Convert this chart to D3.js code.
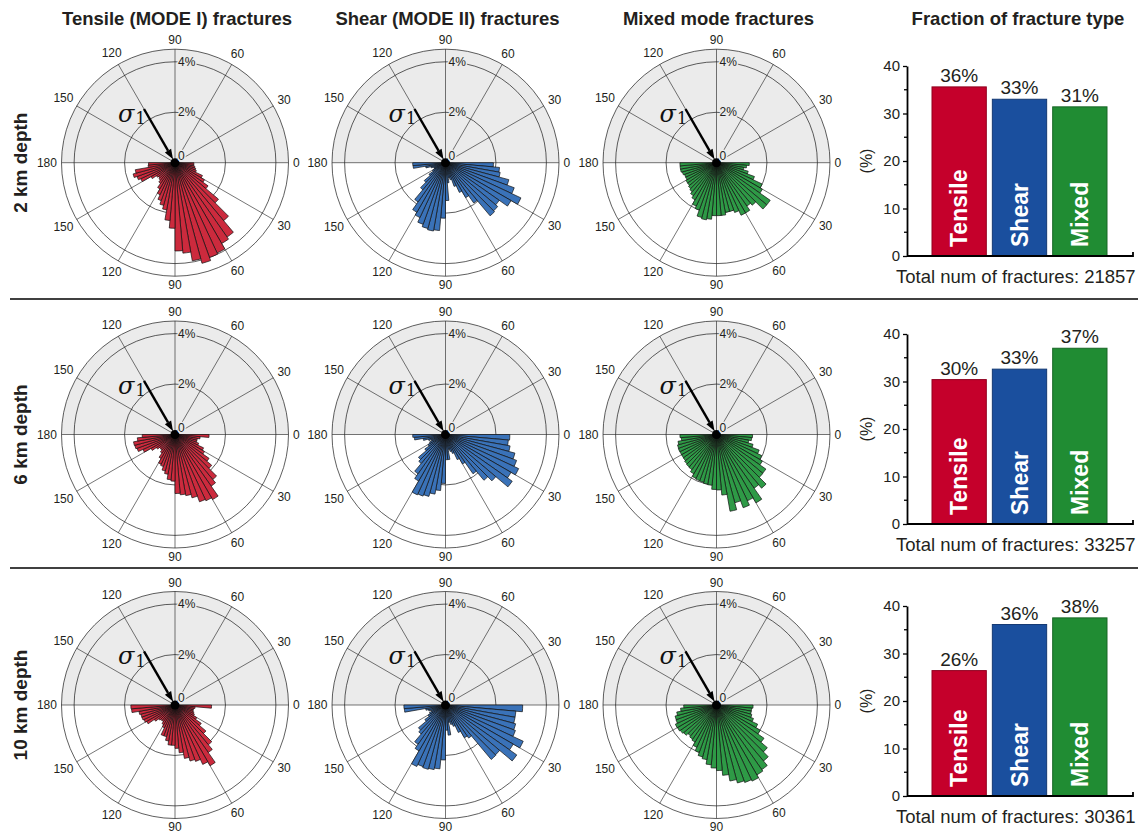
<!DOCTYPE html>
<meta charset='utf-8'>
<html>
<head>
<style>
  body { margin: 0; background: #fff; }
  text { font-family: 'Liberation Sans', Arial, Helvetica, sans-serif; fill: #231f20; }
</style>
</head>
<body>
<script src='https://d3js.org/d3.v7.min.js'></script>
<script>

// ---- data ----
var depths = ['2 km depth', '6 km depth', '10 km depth'];
var columnTitles = ['Tensile (MODE I) fractures', 'Shear (MODE II) fractures', 'Mixed mode fractures'];
var barTitle = 'Fraction of fracture type';
var types = ['Tensile', 'Shear', 'Mixed'];

// rose bins of 5 deg, from 0 (right) through 90 (bottom) to 180 (left), value in %
var tensile2km = [0.75, 0.75, 0.8, 0.85, 0.9, 1.2, 1.35, 1.6, 2.25, 3.0, 3.6, 3.7,
                  3.95, 4.0, 4.13, 3.95, 3.6, 3.5, 2.6, 2.3, 1.9, 1.75, 1.6, 1.4,
                  1.2, 1.0, 0.9, 0.85, 0.9, 1.1, 1.5, 1.6, 1.72, 1.6, 1.07, 1.05];
var shear2km   = [1.9, 2.15, 2.2, 2.6, 2.9, 3.3, 3.0, 2.6, 2.7, 2.75, 1.95, 1.6,
                  1.3, 1.0, 0.7, 0.6, 0.8, 1.5, 2.2, 2.7, 2.75, 2.7, 2.6, 2.4,
                  2.27, 1.9, 1.4, 1.1, 0.8, 0.6, 0.5, 0.5, 0.6, 0.8, 1.29, 1.3];
var mixed2km   = [1.3, 1.2, 1.1, 1.3, 1.6, 2.0, 2.1, 2.6, 2.6, 2.2, 2.1, 2.3,
                  2.3, 2.1, 2.0, 2.0, 2.1, 2.1, 2.1, 2.25, 2.3, 2.25, 2.0, 1.9,
                  1.7, 1.6, 1.5, 1.45, 1.4, 1.4, 1.35, 1.35, 1.4, 1.45, 1.45, 1.45];
var tensile6km = [1.35, 1.0, 0.9, 0.9, 1.0, 1.25, 1.35, 1.65, 1.9, 2.33, 2.5, 2.98,
                  2.9, 2.84, 2.6, 2.46, 2.4, 2.34, 1.85, 1.8, 1.6, 1.5, 1.35, 1.3,
                  1.1, 0.9, 0.8, 0.8, 0.9, 1.1, 1.4, 1.6, 1.65, 1.67, 1.5, 1.3];
var shear6km   = [2.55, 2.5, 2.6, 2.85, 3.0, 3.2, 3.0, 3.23, 2.6, 2.37, 1.9, 1.35,
                  1.1, 0.8, 0.7, 0.6, 1.0, 1.0, 1.94, 2.23, 2.4, 2.54, 2.6, 2.64,
                  2.13, 1.9, 1.5, 1.4, 1.0, 0.8, 0.7, 0.6, 0.7, 0.9, 1.24, 1.3];
var mixed6km   = [1.43, 1.4, 1.3, 1.5, 1.8, 1.98, 2.1, 2.39, 2.4, 2.78, 2.6, 3.13,
                  2.9, 3.09, 2.8, 3.09, 2.41, 2.2, 2.18, 2.02, 2.0, 1.96, 1.95, 1.92,
                  1.8, 1.7, 1.68, 1.65, 1.61, 1.6, 1.6, 1.61, 1.6, 1.55, 1.4, 1.45];
var tensile10km = [1.45, 0.8, 0.75, 0.75, 0.8, 0.85, 1.0, 1.27, 1.6, 2.06, 2.3, 2.78,
                   2.6, 2.38, 2.3, 2.15, 1.9, 1.72, 1.6, 1.6, 1.45, 1.3, 1.3, 1.0,
                   0.9, 0.8, 0.8, 0.85, 1.0, 1.3, 1.36, 1.4, 1.4, 1.45, 1.73, 1.75];
var shear10km   = [3.06, 2.8, 2.8, 2.88, 2.95, 3.4, 3.1, 3.45, 2.8, 2.82, 1.6, 1.5,
                   1.2, 0.9, 0.8, 0.7, 1.2, 1.0, 2.18, 2.54, 2.6, 2.64, 2.6, 2.69,
                   2.1, 1.9, 1.5, 1.4, 1.0, 0.8, 0.7, 0.6, 0.7, 0.8, 1.64, 1.65];
var mixed10km   = [1.45, 1.4, 1.4, 1.45, 1.56, 1.8, 2.0, 2.3, 2.63, 2.9, 3.13, 3.2,
                   3.33, 3.27, 3.2, 3.06, 2.8, 2.6, 2.5, 2.38, 2.2, 2.13, 2.0, 1.85,
                   1.7, 1.65, 1.6, 1.7, 1.75, 1.79, 1.8, 1.71, 1.7, 1.6, 1.43, 1.3];

var roses = [[tensile2km, shear2km, mixed2km],
             [tensile6km, shear6km, mixed6km],
             [tensile10km, shear10km, mixed10km]];

// fraction of fracture type (%)
var fraction2km = [35.6, 33.0, 31.4];
var fraction6km = [30.4, 32.6, 37.0];
var fraction10km = [26.4, 36.1, 37.5];
var fractions = [fraction2km, fraction6km, fraction10km];
var totals = [21857, 33257, 30361];

var angleTicks = [0, 30, 60, 90, 120, 150, 180];
var radialTicks = [0, 2, 4];
var percentTicks = [0, 10, 20, 30, 40];
var percentMinor = [5, 15, 25, 35];
var sigmaAngle = 120;

// ---- layout ----
var width = 1143, height = 833;
var roseColors = ['#cc2a3d', '#3a72b8', '#2e9a46'];
var barColors = ['#c5002b', '#1a4f9e', '#208c33'];
var roseX = [175, 445.5, 716.5];
var rowY = [162.7, 434.5, 705];
var barBase = [256, 524, 796];
var R = 113.5;
var rad = d3.scaleLinear().domain([0, 4.5]).range([0, R]);
var toRad = Math.PI / 180;

var svg = d3.select('body').append('svg')
    .attr('width', width)
    .attr('height', height);

// column titles
svg.selectAll('text.coltitle')
    .data(columnTitles)
    .enter().append('text')
    .attr('class', 'coltitle')
    .attr('x', function(d, i){ return roseX[i] + 2; })
    .attr('y', 25)
    .attr('text-anchor', 'middle')
    .style('font-weight', 'bold')
    .style('font-size', '18.5px')
    .text(function(d){ return d; });

svg.append('text')
    .attr('x', 1018).attr('y', 25)
    .attr('text-anchor', 'middle')
    .style('font-weight', 'bold')
    .style('font-size', '18.5px')
    .text(barTitle);

// row labels
svg.selectAll('text.rowlabel')
    .data(depths)
    .enter().append('text')
    .attr('class', 'rowlabel')
    .attr('transform', function(d, i){ return 'translate(27,' + rowY[i] + ') rotate(-90)'; })
    .attr('text-anchor', 'middle')
    .style('font-weight', 'bold')
    .style('font-size', '19px')
    .text(function(d){ return d; });

// separators
[299, 568].forEach(function(y){
    svg.append('line')
        .attr('x1', 10).attr('x2', 1138)
        .attr('y1', y).attr('y2', y)
        .attr('stroke', '#000').attr('stroke-width', 1.5);
});

function drawRose(cx, cy, values, color){
    var g = svg.append('g').attr('transform', 'translate(' + cx + ',' + cy + ')');

    // upper half shaded
    g.append('path')
        .attr('d', d3.arc()({ innerRadius: 0, outerRadius: R, startAngle: -Math.PI / 2, endAngle: Math.PI / 2 }))
        .attr('fill', '#ebebeb');

    // rings
    [rad(2), rad(4), R].forEach(function(r){
        g.append('circle').attr('r', r)
            .attr('fill', 'none').attr('stroke', '#1a1a1a').attr('stroke-width', 0.7);
    });

    // spokes
    d3.range(0, 360, 30).forEach(function(a){
        g.append('line')
            .attr('x1', 0).attr('y1', 0)
            .attr('x2', R * Math.cos(a * toRad))
            .attr('y2', R * Math.sin(a * toRad))
            .attr('stroke', '#1a1a1a').attr('stroke-width', 0.6);
    });

    // bars
    var arc = d3.arc().innerRadius(0);
    g.selectAll('path.bin')
        .data(values)
        .enter().append('path')
        .attr('class', 'bin')
        .attr('d', function(d, i){
            return arc({ outerRadius: rad(d),
                         startAngle: (i * 5 + 90) * toRad,
                         endAngle: ((i + 1) * 5 + 90) * toRad });
        })
        .attr('fill', color)
        .attr('stroke', '#111')
        .attr('stroke-width', 0.7);

    g.append('circle').attr('r', 4.5).attr('fill', '#000');

    // radial labels
    g.selectAll('text.rlab')
        .data(radialTicks)
        .enter().append('text')
        .attr('class', 'rlab')
        .attr('x', 3)
        .attr('y', function(d){ return d === 0 ? -7 : -rad(d); })
        .attr('dominant-baseline', 'central')
        .style('font-size', '12px')
        .style('paint-order', 'stroke')
        .attr('stroke', '#ebebeb').attr('stroke-width', 3)
        .text(function(d){ return d === 0 ? '0' : d + '%'; });

    // sigma 1 arrow
    var ax = Math.cos(sigmaAngle * toRad), ay = -Math.sin(sigmaAngle * toRad);
    var r0 = 62, tip = 4, head = 10, hw = 3.6;
    var bx = ax * (tip + head), by = ay * (tip + head);
    g.append('line')
        .attr('x1', ax * r0).attr('y1', ay * r0)
        .attr('x2', bx).attr('y2', by)
        .attr('stroke', '#000').attr('stroke-width', 2.4);
    g.append('path')
        .attr('d', 'M' + (ax * tip) + ',' + (ay * tip) +
                   'L' + (bx - ay * hw) + ',' + (by + ax * hw) +
                   'L' + (bx + ay * hw) + ',' + (by - ax * hw) + 'Z')
        .attr('fill', '#000');

    var sig = g.append('text')
        .attr('x', -57).attr('y', -41)
        .style('font-family', "'DejaVu Serif', 'Liberation Serif', serif")
        .style('fill', '#111');
    sig.append('tspan').style('font-size', '24px').style('font-style', 'italic').text('σ');
    sig.append('tspan').attr('dy', 2.5).attr('dx', 1).style('font-size', '16px').text('1');

    // angle labels
    var labels = [];
    angleTicks.forEach(function(a){ labels.push({ a: a, up: true }); });
    angleTicks.filter(function(a){ return a > 0 && a < 180; })
        .forEach(function(a){ labels.push({ a: a, up: false }); });
    g.selectAll('text.alab')
        .data(labels)
        .enter().append('text')
        .attr('class', 'alab')
        .each(function(d){
            var s = String(d.a);
            var w = 6.7 * s.length, h = 8.6;
            var c = Math.cos(d.a * toRad), sn = Math.sin(d.a * toRad);
            var rr = 118 + 0.5 * w * Math.abs(c) + 0.5 * h * Math.abs(sn);
            d3.select(this)
                .attr('x', rr * c)
                .attr('y', (d.up ? -1 : 1) * rr * sn)
                .text(s);
        })
        .attr('text-anchor', 'middle')
        .attr('dominant-baseline', 'central')
        .style('font-size', '12px');
}

function drawBars(row){
    var base = barBase[row];
    var vals = fractions[row];
    var g = svg.append('g');
    var x = d3.scaleBand().domain(types).range([932, 1107]).paddingInner(0.1).paddingOuter(0);
    var y = d3.scaleLinear().domain([0, 40]).range([base, base - 190]);

    g.selectAll('rect')
        .data(vals)
        .enter().append('rect')
        .attr('x', function(d, i){ return x(types[i]); })
        .attr('y', function(d){ return y(d); })
        .attr('width', x.bandwidth())
        .attr('height', function(d){ return base - y(d); })
        .attr('fill', function(d, i){ return barColors[i]; })
        .attr('stroke', function(d, i){ return d3.color(barColors[i]).darker(0.9); })
        .attr('stroke-width', 1);

    g.selectAll('text.val')
        .data(vals)
        .enter().append('text')
        .attr('class', 'val')
        .attr('x', function(d, i){ return x(types[i]) + x.bandwidth() / 2; })
        .attr('y', function(d){ return y(d) - 5; })
        .attr('text-anchor', 'middle')
        .style('font-size', '19px')
        .text(function(d){ return Math.round(d) + '%'; });

    g.selectAll('text.name')
        .data(types)
        .enter().append('text')
        .attr('class', 'name')
        .attr('transform', function(d){
            return 'translate(' + (x(d) + x.bandwidth() / 2 + 8) + ',' + (base - 9) + ') rotate(-90)';
        })
        .style('fill', '#fff')
        .style('font-weight', 'bold')
        .style('font-size', '23px')
        .text(function(d){ return d; });

    // y axis
    var ax = g.append('g')
        .attr('transform', 'translate(907,0)')
        .call(d3.axisLeft(y).tickValues(percentTicks).tickSize(4).tickSizeOuter(0).tickPadding(3));
    ax.select('.domain').attr('stroke-width', 1.8);
    ax.selectAll('.tick line').attr('stroke-width', 1.3);
    ax.selectAll('.tick text')
        .style('font-size', '15px')
        .style('font-family', "'Liberation Sans', Arial, sans-serif")
        .attr('fill', '#231f20');
    ax.selectAll('line.minor')
        .data(percentMinor)
        .enter().append('line')
        .attr('class', 'minor')
        .attr('x1', -3).attr('x2', 0)
        .attr('y1', function(d){ return y(d); })
        .attr('y2', function(d){ return y(d); })
        .attr('stroke', '#000').attr('stroke-width', 1.3);

    // x axis
    g.append('path')
        .attr('d', 'M907,' + base + 'H1133V' + (base - 4))
        .attr('fill', 'none')
        .attr('stroke', '#000').attr('stroke-width', 1.8);

    g.append('text')
        .attr('transform', 'translate(872,' + (base - 95) + ') rotate(-90)')
        .attr('text-anchor', 'middle')
        .style('font-size', '16px')
        .text('(%)');

    g.append('text')
        .attr('x', 896).attr('y', base + 27)
        .style('font-size', '18.5px')
        .text('Total num of fractures: ' + totals[row]);
}

for (var row = 0; row < 3; row++) {
    for (var col = 0; col < 3; col++) {
        drawRose(roseX[col], rowY[row], roses[row][col], roseColors[col]);
    }
    drawBars(row);
}

</script>
</body>
</html>
